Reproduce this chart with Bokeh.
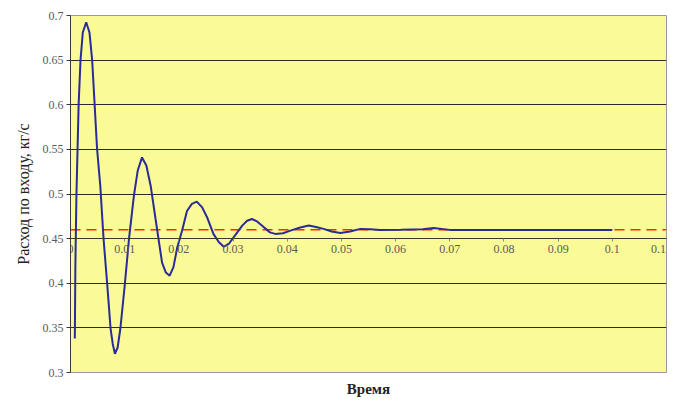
from bokeh.plotting import figure
from bokeh.models import FixedTicker, Range1d, Title
from bokeh.embed import file_html
from bokeh.resources import INLINE

# flow curve
t = [0.0008, 0.0009, 0.0011, 0.0015, 0.00185, 0.00227, 0.0029, 0.0035, 0.0040,
     0.0049, 0.0055, 0.0061, 0.0068, 0.0074, 0.0078, 0.0082, 0.0087, 0.0092,
     0.0100, 0.0108, 0.0117, 0.0124, 0.0132, 0.0140, 0.0148, 0.0157, 0.0169,
     0.0176, 0.0183, 0.0190, 0.0197, 0.0206, 0.0215, 0.0224, 0.0233, 0.0243,
     0.0252, 0.0264, 0.0274, 0.0283, 0.0292, 0.0301, 0.0317, 0.0326, 0.0335,
     0.0345, 0.0357, 0.0368, 0.0378, 0.0392, 0.0406, 0.0424, 0.0440, 0.0455,
     0.0467, 0.0482, 0.0498, 0.0516, 0.0535, 0.0553, 0.0572, 0.0610, 0.0650,
     0.0670, 0.0700, 0.0750, 0.0800, 0.0850, 0.0900, 0.0950, 0.1000]
flow = [0.338, 0.420, 0.500, 0.600, 0.650, 0.681, 0.6925, 0.681, 0.650,
        0.551, 0.509, 0.450, 0.397, 0.349, 0.332, 0.321, 0.328, 0.349,
        0.397, 0.450, 0.498, 0.526, 0.541, 0.532, 0.509, 0.472, 0.423,
        0.412, 0.4085, 0.418, 0.440, 0.459, 0.481, 0.489, 0.4915, 0.485,
        0.474, 0.455, 0.446, 0.441, 0.444, 0.4515, 0.4646, 0.470, 0.472,
        0.469, 0.4627, 0.457, 0.4553, 0.456, 0.459, 0.4625, 0.4646, 0.4628,
        0.4609, 0.458, 0.4564, 0.458, 0.4609, 0.4605, 0.4598, 0.460, 0.4605,
        0.462, 0.4598, 0.4598, 0.4598, 0.4598, 0.4598, 0.4598, 0.4598]

setpoint = 0.46
set_x = [0.0, 0.11]

x_ticks = [0.0, 0.01, 0.02, 0.03, 0.04, 0.05, 0.06, 0.07, 0.08, 0.09, 0.10, 0.11]
x_tick_labels = ["0", "0.01", "0.02", "0.03", "0.04", "0.05", "0.06", "0.07",
                 "0.08", "0.09", "0.1", "0.11"]
y_ticks = [0.3, 0.35, 0.4, 0.45, 0.5, 0.55, 0.6, 0.65, 0.7]
y_tick_labels = ["0.3", "0.35", "0.4", "0.45", "0.5", "0.55", "0.6", "0.65", "0.7"]

x_title = "Время"
y_title = "Расход по входу, кг/с"

p = figure(width=671, height=407, output_backend="svg", toolbar_location=None,
           x_range=Range1d(0, 0.11), y_range=Range1d(0.3, 0.7),
           min_border_left=70, min_border_right=5, min_border_top=15,
           min_border_bottom=35)
p.background_fill_color = "#FAFA96"
p.border_fill_color = "white"
p.outline_line_color = "#9A9A9A"

p.xgrid.grid_line_color = None
p.ygrid.ticker = FixedTicker(ticks=y_ticks)
p.ygrid.grid_line_color = "#2B2B2B"
p.ygrid.grid_line_width = 1.2

font = "Liberation Serif"
# x axis crosses at 0.45
p.xaxis.fixed_location = 0.45
p.xaxis.ticker = FixedTicker(ticks=x_ticks)
p.xaxis.major_label_overrides = {v: s for v, s in zip(x_ticks, x_tick_labels)}
p.xaxis.axis_line_color = "#3A3A2A"
p.xaxis.axis_line_width = 1.2
p.xaxis.major_tick_in = 0
p.xaxis.major_tick_out = 3
p.xaxis.major_tick_line_color = "#888888"
p.xaxis.minor_tick_line_color = None
p.xaxis.major_label_standoff = 3
p.xaxis.major_label_text_font = font
p.xaxis.major_label_text_font_size = "12px"
p.xaxis.major_label_text_color = "#5A5A5A"

p.yaxis.ticker = FixedTicker(ticks=y_ticks)
p.yaxis.major_label_overrides = {v: s for v, s in zip(y_ticks, y_tick_labels)}
p.yaxis.axis_line_color = "#3A3A3A"
p.yaxis.major_tick_in = 0
p.yaxis.major_tick_out = 4
p.yaxis.major_tick_line_color = "#3A3A3A"
p.yaxis.minor_tick_line_color = None
p.yaxis.major_label_standoff = 3
p.yaxis.major_label_text_font = font
p.yaxis.major_label_text_font_size = "12px"
p.yaxis.major_label_text_color = "#5A5A5A"
p.yaxis.axis_label = y_title
p.yaxis.axis_label_text_font = font
p.yaxis.axis_label_text_font_size = "16px"
p.yaxis.axis_label_text_font_style = "normal"
p.yaxis.axis_label_text_color = "#222222"
p.yaxis.axis_label_standoff = 8

p.line(set_x, [setpoint, setpoint], line_color="#FF2A00", line_width=1.5,
       line_dash="10 6")
p.line(t, flow, line_color="#2A2A9A", line_width=2)

p.add_layout(Title(text=x_title, align="center", text_font=font,
                   text_font_size="15px", text_font_style="bold",
                   text_color="#222222", standoff=13), "below")

open("out.html", "w").write(file_html(p, INLINE))
